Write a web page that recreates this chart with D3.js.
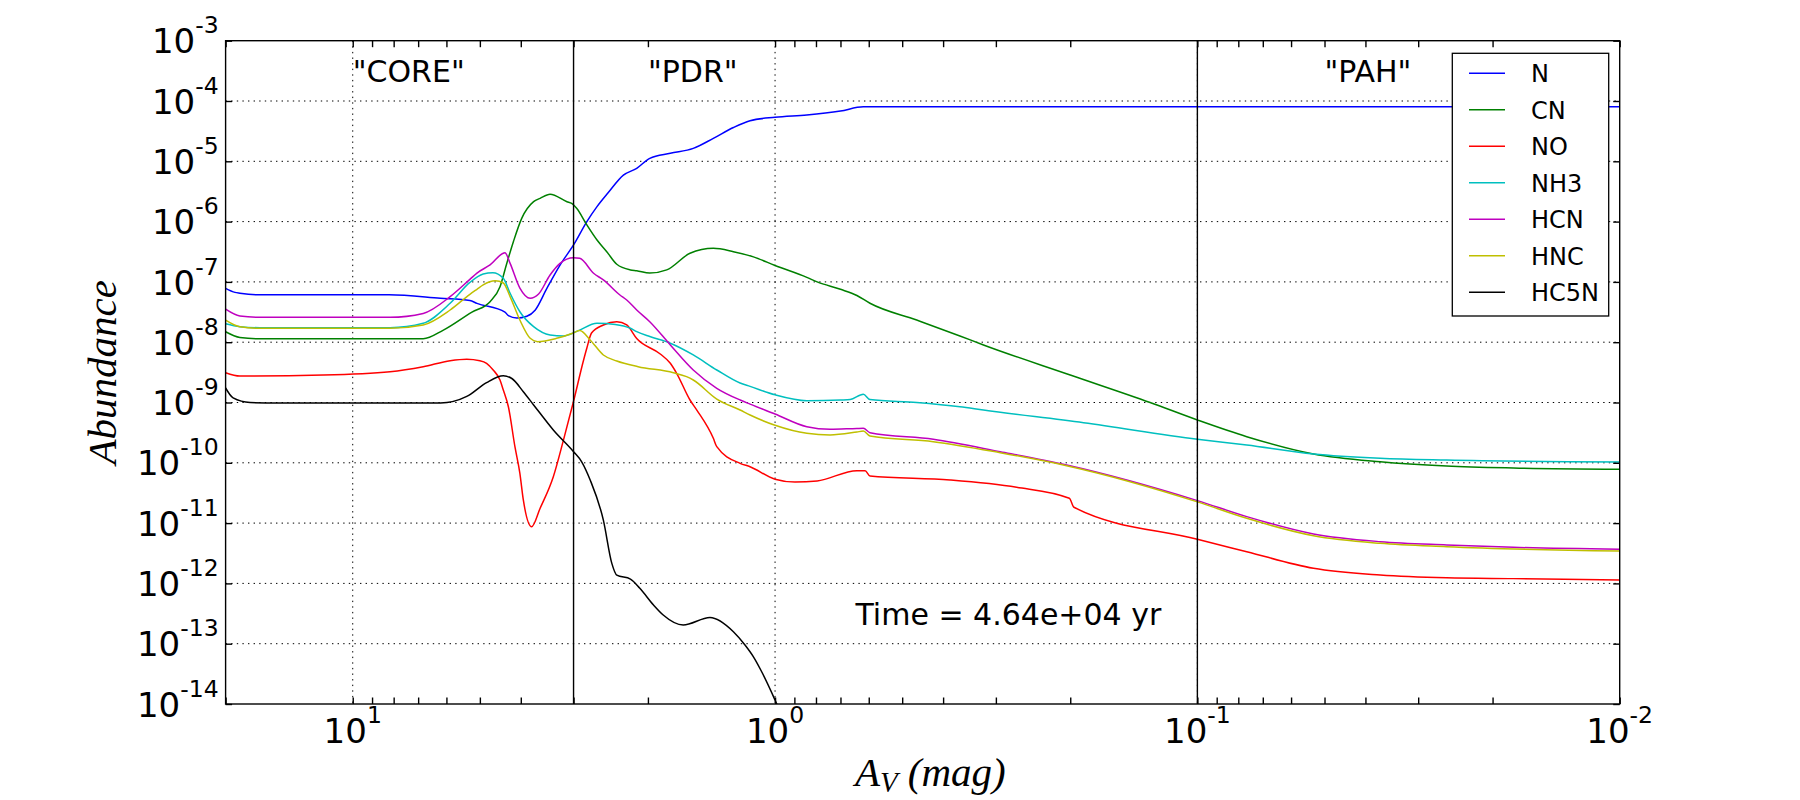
<!DOCTYPE html>
<html>
<head>
<meta charset="utf-8">
<script src="https://cdn.jsdelivr.net/npm/d3@7"></script>
<style>
  body { margin: 0; background: #fff; }
  text { font-family: "DejaVu Sans", sans-serif; }
</style>
</head>
<body>
<svg id="chart" width="1800" height="800"></svg>
<script>
// abundances, as [A_V (mag), abundance]
const N = [[20, 7.8e-8], [19, 6.7e-8], [18.5, 6.5e-8], [16.6, 6.1e-8], [12, 6.1e-8], [8.2, 6.1e-8],
  [6.2, 5.35e-8], [5.28, 4.9e-8], [5.08, 4.4e-8], [4.36, 3.15e-8], [4.28, 2.75e-8], [4.09, 2.52e-8],
  [3.87, 2.7e-8], [3.70, 3.4e-8], [3.47, 7.8e-8], [3.23, 1.9e-7], [3.0, 4.1e-7], [2.79, 1.0e-6],
  [2.64, 1.77e-6], [2.485, 3.0e-6], [2.286, 5.9e-6], [2.126, 7.65e-6], [1.98, 1.12e-5], [1.77, 1.36e-5],
  [1.562, 1.64e-5], [1.40, 2.4e-5], [1.255, 3.63e-5], [1.146, 4.7e-5], [1.0, 5.37e-5], [0.841, 5.86e-5],
  [0.70, 6.83e-5], [0.618, 8.0e-5], [0.3, 8.0e-5], [0.1, 8.0e-5], [0.01, 8.0e-5]];

const CN = [[20, 1.49e-8], [18.5, 1.2e-8], [16.6, 1.14e-8], [10, 1.14e-8], [6.81, 1.14e-8], [6.1, 1.59e-8],
  [5.22, 3.16e-8], [4.73, 4.7e-8], [4.48, 8.3e-8], [4.32, 2.0e-7], [4.165, 4.64e-7], [3.98, 1.13e-6],
  [3.73, 2.14e-6], [3.60, 2.43e-6], [3.41, 2.84e-6], [3.11, 2.14e-6], [3.03, 2.0e-6], [2.95, 1.66e-6],
  [2.79, 8.8e-7], [2.64, 4.95e-7], [2.503, 3.17e-7], [2.37, 1.96e-7], [2.20, 1.58e-7], [2.126, 1.53e-7],
  [1.98, 1.40e-7], [1.805, 1.58e-7], [1.59, 2.98e-7], [1.40, 3.6e-7], [1.255, 3.17e-7], [1.125, 2.6e-7],
  [1.0, 1.87e-7], [0.841, 1.19e-7], [0.795, 1.0e-7], [0.70, 7.54e-8], [0.64, 5.95e-8], [0.596, 4.42e-8],
  [0.462, 2.33e-8], [0.365, 1.27e-8], [0.321, 9.0e-9], [0.20, 2.86e-9], [0.1294, 1.0e-9], [0.1, 5.13e-10],
  [0.0764, 2.71e-10], [0.0531, 1.40e-10], [0.0369, 1.04e-10], [0.0257, 8.85e-11], [0.01786, 8.2e-11],
  [0.01, 7.8e-11]];

const NO = [[20, 3.12e-9], [18.5, 2.75e-9], [11.74, 2.86e-9], [8.16, 3.24e-9], [6.81, 3.93e-9], [5.88, 4.94e-9],
  [5.37, 5.23e-9], [5.0, 4.94e-9], [4.82, 4.47e-9], [4.65, 3.46e-9], [4.48, 2.36e-9], [4.40, 1.61e-9],
  [4.28, 8.5e-10], [4.13, 1.85e-10], [4.02, 6.7e-11], [3.945, 2.42e-11], [3.77, 8.7e-12], [3.60, 1.76e-11],
  [3.35, 5.88e-11], [3.17, 2.38e-10], [3.0, 1.05e-9], [2.84, 5.07e-9], [2.79, 8.0e-9], [2.72, 1.42e-8],
  [2.55, 1.93e-8], [2.37, 2.19e-8], [2.245, 1.93e-8], [2.126, 1.15e-8], [1.87, 6.38e-9], [1.77, 4.47e-9],
  [1.71, 3.05e-9], [1.59, 1.1e-9], [1.532, 7.5e-10], [1.40, 2.55e-10], [1.374, 1.85e-10], [1.21, 9.8e-11],
  [1.146, 8.6e-11], [1.0, 5.35e-11], [0.897, 4.79e-11], [0.795, 5.0e-11], [0.64, 7.4e-11], [0.612, 7.4e-11],
  [0.596, 6.04e-11], [0.385, 5.19e-11], [0.268, 3.93e-11], [0.201, 2.58e-11], [0.196, 1.83e-11],
  [0.1, 5.38e-12], [0.0764, 3.36e-12], [0.0531, 1.78e-12], [0.0369, 1.38e-12], [0.0257, 1.24e-12],
  [0.01786, 1.20e-12], [0.01, 1.14e-12]];

const NH3 = [[20, 2.02e-8], [18.5, 1.81e-8], [16.6, 1.74e-8], [8.16, 1.74e-8], [6.81, 2.06e-8], [5.88, 4.42e-8],
  [5.28, 9.8e-8], [4.91, 1.35e-7], [4.66, 1.42e-7], [4.40, 1.15e-7], [4.24, 6.48e-8], [4.02, 3.2e-8],
  [3.73, 1.81e-8], [3.41, 1.32e-8], [3.17, 1.27e-8], [2.93, 1.54e-8], [2.64, 2.06e-8], [2.39, 1.97e-8],
  [2.20, 1.70e-8], [2.126, 1.5e-8], [1.98, 1.24e-8], [1.77, 9.6e-9], [1.562, 6.14e-9], [1.374, 3.46e-9],
  [1.21, 2.1e-9], [1.146, 1.85e-9], [1.0, 1.34e-9], [0.841, 1.07e-9], [0.70, 1.1e-9], [0.664, 1.12e-9],
  [0.618, 1.37e-9], [0.596, 1.12e-9], [0.462, 1.0e-9], [0.365, 8.5e-10], [0.321, 7.5e-10], [0.186, 4.62e-10],
  [0.1, 2.46e-10], [0.0764, 1.97e-10], [0.0531, 1.40e-10], [0.0369, 1.19e-10], [0.0257, 1.11e-10],
  [0.01, 1.03e-10]];

const HCN = [[20, 3.52e-8], [18.5, 2.72e-8], [16.6, 2.59e-8], [8.16, 2.59e-8], [6.81, 3.0e-8], [5.88, 5.69e-8],
  [5.28, 1.1e-7], [5.08, 1.4e-7], [4.73, 1.91e-7], [4.36, 3.05e-7], [4.24, 2.03e-7], [4.02, 7.9e-8],
  [3.80, 5.35e-8], [3.63, 6.3e-8], [3.41, 1.3e-7], [3.23, 2.03e-7], [3.0, 2.52e-7], [2.90, 2.46e-7],
  [2.69, 1.39e-7], [2.55, 1.08e-7], [2.33, 6.07e-8], [2.245, 5.0e-8], [2.126, 3.42e-8], [1.98, 2.19e-8],
  [1.77, 9.0e-9], [1.562, 3.46e-9], [1.374, 1.72e-9], [1.21, 1.1e-9], [1.146, 9.4e-10], [1.0, 6.45e-10],
  [0.841, 3.97e-10], [0.741, 3.6e-10], [0.64, 3.71e-10], [0.618, 3.73e-10], [0.596, 3.16e-10],
  [0.422, 2.45e-10], [0.293, 1.53e-10], [0.204, 9.2e-11], [0.1, 2.36e-11], [0.0764, 1.28e-11],
  [0.0531, 6.6e-12], [0.0369, 4.92e-12], [0.0257, 4.34e-12], [0.01786, 3.97e-12], [0.01, 3.68e-12]];

const HNC = [[20, 2.33e-8], [18.5, 1.81e-8], [16.6, 1.70e-8], [8.16, 1.70e-8], [6.81, 1.93e-8], [5.88, 3.42e-8],
  [5.28, 6.23e-8], [5.08, 7.54e-8], [4.91, 8.9e-8], [4.60, 1.04e-7], [4.40, 9.6e-8], [4.24, 5.69e-8],
  [4.02, 2.33e-8], [3.80, 1.16e-8], [3.65, 1.02e-8], [3.29, 1.16e-8], [3.0, 1.43e-8], [2.90, 1.56e-8],
  [2.74, 1.09e-8], [2.55, 6.14e-9], [2.37, 4.88e-9], [2.11, 3.93e-9], [1.74, 3.12e-9], [1.62, 2.68e-9],
  [1.562, 2.36e-9], [1.374, 1.14e-9], [1.21, 7.5e-10], [1.146, 6.2e-10], [1.0, 4.19e-10], [0.841, 3.08e-10],
  [0.741, 2.89e-10], [0.64, 3.24e-10], [0.618, 3.36e-10], [0.596, 2.78e-10], [0.422, 2.24e-10],
  [0.293, 1.47e-10], [0.204, 8.95e-11], [0.1, 2.25e-11], [0.0764, 1.2e-11], [0.0531, 6.18e-12],
  [0.0369, 4.62e-12], [0.0257, 4.06e-12], [0.01, 3.44e-12]];

const HC5N = [[20, 1.74e-9], [19.2, 1.19e-9], [17.5, 1.0e-9], [15, 9.8e-10], [6.2, 9.8e-10], [5.37, 1.26e-9],
  [4.82, 2.14e-9], [4.40, 2.77e-9], [4.20, 2.5e-9], [3.945, 1.51e-9], [3.73, 9.1e-10], [3.60, 6.62e-10],
  [3.35, 3.5e-10], [3.0, 1.53e-10], [2.87, 1.04e-10], [2.74, 5.19e-11], [2.55, 1.12e-11], [2.435, 2.15e-12],
  [2.37, 1.37e-12], [2.20, 1.18e-12], [2.09, 8.3e-13], [1.94, 4.38e-13], [1.84, 2.99e-13], [1.65, 2.04e-13],
  [1.426, 2.72e-13], [1.255, 1.58e-13], [1.178, 9.5e-14], [1.126, 6.1e-14], [1.081, 3.66e-14],
  [1.0, 1.16e-14], [0.95, 5e-15]];

const speciesNames = ['N', 'CN', 'NO', 'NH3', 'HCN', 'HNC', 'HC5N'];
const speciesColors = ['#0000ff', '#008000', '#ff0000', '#00bfbf', '#bf00bf', '#bfbf00', '#000000'];
const speciesData = [N, CN, NO, NH3, HCN, HNC, HC5N];

const xTickValues = [10, 1, 0.1, 0.01];
const xTickExps = ['1', '0', '-1', '-2'];
const yTickValues = [1e-3, 1e-4, 1e-5, 1e-6, 1e-7, 1e-8, 1e-9, 1e-10, 1e-11, 1e-12, 1e-13, 1e-14];
const yTickExps = ['-3', '-4', '-5', '-6', '-7', '-8', '-9', '-10', '-11', '-12', '-13', '-14'];

const regionLabels = ['"CORE"', '"PDR"', '"PAH"'];
const regionAv = [10, 2, 0.05];
const boundaryAv = [3, 0.1];
const timeLabel = 'Time = 4.64e+04 yr';

const W = 1800, H = 800;
const margin = { top: 40.7, right: 180.3, bottom: 96, left: 225.6 };

const svg = d3.select('#chart');

const x = d3.scaleLog().domain([20, 0.01]).range([margin.left, W - margin.right]);
const y = d3.scaleLog().domain([1e-14, 1e-3]).range([H - margin.bottom, margin.top]);
const [x0, x1] = x.range();
const [y1, y0] = y.range();

svg.append('rect').attr('width', W).attr('height', H).attr('fill', '#fff');

svg.append('clipPath').attr('id', 'plot-clip')
  .append('rect')
  .attr('x', x0).attr('y', y0)
  .attr('width', x1 - x0).attr('height', y1 - y0);

// dotted grid on the decades
const grid = svg.append('g').attr('class', 'grid')
  .attr('stroke', '#000').attr('stroke-width', 1).attr('stroke-dasharray', '1.4,4.2');

grid.selectAll('line.gx')
  .data(xTickValues.filter(v => v < 20 && v > 0.01))
  .join('line')
  .attr('class', 'gx')
  .attr('x1', d => x(d)).attr('x2', d => x(d))
  .attr('y1', y0).attr('y2', y1);

grid.selectAll('line.gy')
  .data(yTickValues.filter(v => v < 1e-3 && v > 1e-14))
  .join('line')
  .attr('class', 'gy')
  .attr('x1', x0).attr('x2', x1)
  .attr('y1', d => y(d)).attr('y2', d => y(d));

// species curves
const line = d3.line()
  .x(d => x(d[0]))
  .y(d => y(d[1]))
  .curve(d3.curveMonotoneX);

svg.append('g')
  .attr('clip-path', 'url(#plot-clip)')
  .selectAll('path')
  .data(speciesData)
  .join('path')
  .attr('fill', 'none')
  .attr('stroke', (d, i) => speciesColors[i])
  .attr('stroke-width', 1.5)
  .attr('d', line);

// region boundaries
svg.selectAll('line.boundary')
  .data(boundaryAv)
  .join('line')
  .attr('class', 'boundary')
  .attr('x1', d => x(d)).attr('x2', d => x(d))
  .attr('y1', y0).attr('y2', y1)
  .attr('stroke', '#000')
  .attr('stroke-width', 1.4);

// ticks, pointing inwards on all four sides
const minorX = x.ticks().filter(v => Math.abs(Math.log10(v) - Math.round(Math.log10(v))) > 1e-6);

function styleTicks(g) {
  g.select('.domain').remove();
  g.selectAll('.tick line').attr('stroke', '#000').attr('stroke-width', 1.4);
}

svg.append('g').attr('transform', `translate(0,${y1})`)
  .call(d3.axisBottom(x).tickValues(xTickValues.concat(minorX)).tickSizeInner(-6.5).tickSizeOuter(0).tickFormat(''))
  .call(styleTicks);
svg.append('g').attr('transform', `translate(0,${y0})`)
  .call(d3.axisTop(x).tickValues(xTickValues.concat(minorX)).tickSizeInner(-6.5).tickSizeOuter(0).tickFormat(''))
  .call(styleTicks);
svg.append('g').attr('transform', `translate(${x0},0)`)
  .call(d3.axisLeft(y).tickValues(yTickValues).tickSizeInner(-6.5).tickSizeOuter(0).tickFormat(''))
  .call(styleTicks);
svg.append('g').attr('transform', `translate(${x1},0)`)
  .call(d3.axisRight(y).tickValues(yTickValues).tickSizeInner(-6.5).tickSizeOuter(0).tickFormat(''))
  .call(styleTicks);

// frame
svg.append('rect')
  .attr('x', x0).attr('y', y0)
  .attr('width', x1 - x0).attr('height', y1 - y0)
  .attr('fill', 'none')
  .attr('stroke', '#000')
  .attr('stroke-width', 1.4);

// tick labels as 10^n
const xLabels = svg.append('g').selectAll('text')
  .data(xTickValues)
  .join('text')
  .attr('x', d => x(d))
  .attr('y', y1 + 39.3)
  .attr('text-anchor', 'middle')
  .attr('fill', '#000');
xLabels.append('tspan').attr('font-size', 34).text('10');
xLabels.append('tspan').attr('font-size', 23.5).attr('dy', -20).text((d, i) => xTickExps[i]);

const yLabels = svg.append('g').selectAll('text')
  .data(yTickValues)
  .join('text')
  .attr('x', x0 - 7)
  .attr('y', d => y(d) + 12.6)
  .attr('text-anchor', 'end')
  .attr('fill', '#000');
yLabels.append('tspan').attr('font-size', 34).text('10');
yLabels.append('tspan').attr('font-size', 23.5).attr('dy', -20).text((d, i) => yTickExps[i]);

// region names
svg.append('g').selectAll('text')
  .data(regionLabels)
  .join('text')
  .attr('x', (d, i) => x(regionAv[i]))
  .attr('y', y0 + 41.3)
  .attr('font-size', 30)
  .attr('fill', '#000')
  .text(d => d);

svg.append('text')
  .attr('x', x(0.645))
  .attr('y', y(2.05e-13))
  .attr('font-size', 30)
  .attr('fill', '#000')
  .text(timeLabel);

// axis titles
svg.append('text')
  .attr('transform', `translate(116,${(y0 + y1) / 2}) rotate(-90)`)
  .attr('text-anchor', 'middle')
  .style('font-family', '"Liberation Serif", serif')
  .style('font-style', 'italic')
  .attr('font-size', 41)
  .text('Abundance');

const xTitle = svg.append('text')
  .attr('x', 855)
  .attr('y', 786)
  .style('font-family', '"Liberation Serif", serif')
  .style('font-style', 'italic')
  .attr('font-size', 41);
xTitle.append('tspan').text('A');
xTitle.append('tspan').attr('font-size', 29).attr('dy', 6).text('V');
xTitle.append('tspan').attr('dy', -6).attr('dx', 10).text('(mag)');

// legend
const legend = svg.append('g').attr('transform', 'translate(1452.3,53.3)');
legend.append('rect')
  .attr('width', 156.4).attr('height', 262.7)
  .attr('fill', '#fff')
  .attr('stroke', '#000')
  .attr('stroke-width', 1.3);

const rows = legend.selectAll('g.row')
  .data(speciesNames)
  .join('g')
  .attr('class', 'row')
  .attr('transform', (d, i) => `translate(0,${20 + i * 36.5})`);
rows.append('line')
  .attr('x1', 16.7).attr('x2', 52.7)
  .attr('stroke', (d, i) => speciesColors[i])
  .attr('stroke-width', 1.5);
rows.append('text')
  .attr('x', 78.7)
  .attr('y', 8.7)
  .attr('font-size', 24)
  .attr('fill', '#000')
  .text(d => d);
</script>
</body>
</html>
